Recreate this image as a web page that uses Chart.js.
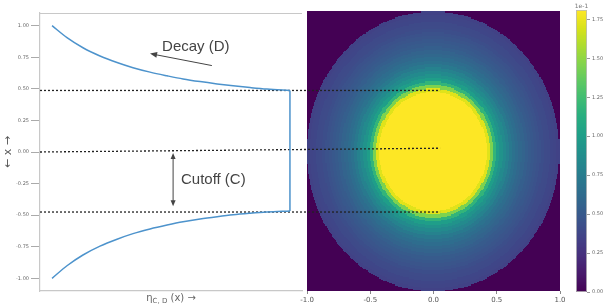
<!DOCTYPE html>
<html><head><meta charset="utf-8">
<script src="https://cdn.jsdelivr.net/npm/chart.js@4.4.1/dist/chart.umd.min.js"></script>
<style>
html,body{margin:0;padding:0;background:#fff;}
#wrap{position:relative;width:609px;height:306px;overflow:hidden;}
canvas{position:absolute;left:0;top:0;}
</style></head><body>
<div id="wrap">
<canvas id="heat" width="609" height="306"></canvas>
<canvas id="line" width="609" height="306"></canvas>
<canvas id="cbar" width="609" height="306"></canvas>
</div>
<script>
// ---------- data ----------
// left panel: eta_{C,D}(x) profile, x on the vertical axis
const etaValues = [0.046,0.103,0.164,0.229,0.294,0.355,0.420,0.485,0.546,0.611,0.676,0.737,0.802,0.866,0.954];
const upperX    = [1.000,0.905,0.825,0.760,0.708,0.667,0.632,0.603,0.578,0.557,0.539,0.524,0.510,0.498,0.487];
const lowerX    = [-1.000,-0.900,-0.815,-0.745,-0.690,-0.646,-0.609,-0.578,-0.552,-0.530,-0.512,-0.497,-0.485,-0.475,-0.466];
const leftYTicks = [-1.00,-0.75,-0.50,-0.25,0.00,0.25,0.50,0.75,1.00];
// dotted guide lines (x level at left end, x level at right end)
const guideStart = [0.487, 0.000, -0.475];
const guideEnd   = [0.487, 0.030, -0.475];
const guideEta   = [0, 1.527];
// right panel: radial profile of the heat map (units of 1e-1), bins of 0.025 in radius
const radialBinWidth = 0.025;
const radialProfile = [
  1.81,1.81,1.81,1.81,1.81,1.81,1.81,1.81,1.81,1.81,
  1.81,1.81,1.81,1.81,1.81,1.81,1.81,1.72,1.45,1.18,
  1.00,0.92,0.85,0.79,0.73,0.68,0.64,0.60,0.57,0.54,
  0.51,0.49,0.47,0.45,0.43,0.41,0.40,0.38,0.37,0.35
];
const heatXTicks = [-1.0,-0.5,0.0,0.5,1.0];
const cbarTicks = [0.00,0.25,0.50,0.75,1.00,1.25,1.50,1.75];
const cbarMax = 1.81;
const cbarExponent = '1e-1';

// ---------- helpers ----------
const VIRIDIS = ['#440154','#48186a','#472d7b','#424086','#3b528b','#33638d','#2c728e','#26828e',
  '#21918c','#1fa088','#28ae80','#3fbc73','#5ec962','#84d44b','#addc30','#d8e219','#fde725'];
function hex2rgb(h){return [parseInt(h.slice(1,3),16),parseInt(h.slice(3,5),16),parseInt(h.slice(5,7),16)];}
const VRGB = VIRIDIS.map(hex2rgb);
function viridis(t){
  t = Math.max(0, Math.min(1, t));
  const p = t*(VRGB.length-1), i = Math.min(Math.floor(p), VRGB.length-2), f = p-i;
  const a = VRGB[i], b = VRGB[i+1];
  return 'rgb(' + [0,1,2].map(k=>Math.round(a[k]+(b[k]-a[k])*f)).join(',') + ')';
}

// heat map cells built from the radial profile
const N = 240;
const heatCells = [];
for (let i=0;i<N;i++){
  for (let j=0;j<N;j++){
    const xc = -1 + (i+0.5)*2/N, yc = -1 + (j+0.5)*2/N;
    const bin = Math.floor(Math.hypot(xc,yc)/radialBinWidth);
    heatCells.push({x:xc, y:yc, v: bin < radialProfile.length ? radialProfile[bin] : 0});
  }
}

Chart.defaults.font.family = "'DejaVu Sans', 'Liberation Sans', sans-serif";
Chart.defaults.animation = false;

// ---------- heat map ----------
const heatPlugin = {
  id:'heatPlugin',
  beforeDatasetsDraw(chart){
    const {ctx, scales:{x, y}} = chart;
    const h = 1/N;
    const cache = {};
    ctx.save();
    for (const c of heatCells){
      const x0 = Math.floor(x.getPixelForValue(c.x-h)), x1 = Math.ceil(x.getPixelForValue(c.x+h));
      const y0 = Math.floor(y.getPixelForValue(c.y+h)), y1 = Math.ceil(y.getPixelForValue(c.y-h));
      ctx.fillStyle = cache[c.v] || (cache[c.v] = viridis(c.v/cbarMax));
      ctx.fillRect(x0, y0, x1-x0, y1-y0);
    }
    ctx.restore();
  }
};
new Chart(document.getElementById('heat'), {
  type:'scatter',
  data:{datasets:[{data:heatCells, pointRadius:0, showLine:false}]},
  options:{
    responsive:false, devicePixelRatio:1,
    layout:{padding:{left:307,right:49,top:11,bottom:0}},
    plugins:{legend:{display:false}, tooltip:{enabled:false}},
    scales:{
      x:{type:'linear', min:-1, max:1,
         afterBuildTicks(s){s.ticks = heatXTicks.map(v=>({value:v}));},
         afterFit(s){s.height = 15;},
         ticks:{callback:v=>v.toFixed(1), font:{size:7}, color:'#555', padding:2, maxRotation:0},
         grid:{display:true, drawOnChartArea:false, drawTicks:true, tickLength:3, color:'#888'},
         border:{display:false}},
      y:{type:'linear', min:-1, max:1, display:false}
    }
  },
  plugins:[heatPlugin]
});

// ---------- left line panel ----------
const upperBranch = etaValues.map((e,i)=>({x:e, y:upperX[i]}));
const lowerBranch = etaValues.map((e,i)=>({x:e, y:lowerX[i]}));
const last = etaValues.length-1;
const cutoffSegment = [{x:etaValues[last], y:upperX[last]},{x:etaValues[last], y:lowerX[last]}];
const curveStyle = {showLine:true, borderColor:'#4d93cc', borderWidth:1.5, pointRadius:0};
const guides = guideStart.map((s,i)=>({
  data:[{x:guideEta[0], y:s},{x:guideEta[1], y:guideEnd[i]}],
  showLine:true, borderColor:'#222', borderWidth:1.3, borderDash:[2,2],
  pointRadius:0, clip:false
}));

function arrowHead(ctx, x1, y1, x2, y2, len, wid){
  const a = Math.atan2(y2-y1, x2-x1);
  ctx.beginPath();
  ctx.moveTo(x2, y2);
  ctx.lineTo(x2 - len*Math.cos(a) + wid*Math.sin(a), y2 - len*Math.sin(a) - wid*Math.cos(a));
  ctx.lineTo(x2 - len*Math.cos(a) - wid*Math.sin(a), y2 - len*Math.sin(a) + wid*Math.cos(a));
  ctx.closePath(); ctx.fill();
}

const leftDeco = {
  id:'leftDeco',
  afterDraw(chart){
    const {ctx, chartArea:ca, scales:{x, y}} = chart;
    ctx.save();
    // top spine
    ctx.strokeStyle = '#c8c8c8'; ctx.lineWidth = 1.2;
    ctx.beginPath(); ctx.moveTo(ca.left, ca.top+0.5); ctx.lineTo(ca.right, ca.top+0.5); ctx.stroke();
    // y title
    ctx.fillStyle = '#555'; ctx.font = "11px 'DejaVu Sans'";
    ctx.textAlign = 'center'; ctx.textBaseline = 'middle';
    ctx.translate(8, (ca.top+ca.bottom)/2); ctx.rotate(-Math.PI/2);
    ctx.fillText('\u2190 x \u2192', 0, 0);
    ctx.setTransform(1,0,0,1,0,0);
    // x title with subscript
    ctx.fillStyle = '#666'; ctx.textAlign = 'left'; ctx.textBaseline = 'alphabetic';
    const big = "10px 'DejaVu Sans'", small = "7px 'DejaVu Sans'";
    const p1 = '\u03b7', p2 = 'C, D', p3 = ' (x) \u2192';
    ctx.font = big; const w1 = ctx.measureText(p1).width, w3 = ctx.measureText(p3).width;
    ctx.font = small; const w2 = ctx.measureText(p2).width;
    let tx = 171 - (w1+w2+w3)/2; const ty = 301;
    ctx.font = big; ctx.fillText(p1, tx, ty); tx += w1;
    ctx.font = small; ctx.fillText(p2, tx, ty+2); tx += w2;
    ctx.font = big; ctx.fillText(p3, tx, ty);
    // Decay annotation
    ctx.fillStyle = '#444'; ctx.strokeStyle = '#444'; ctx.lineWidth = 1;
    ctx.font = "15px 'Liberation Sans'"; ctx.textBaseline = 'middle';
    ctx.fillText('Decay (D)', x.getPixelForValue(0.466), y.getPixelForValue(0.834));
    let ax1 = x.getPixelForValue(0.656), ay1 = y.getPixelForValue(0.684);
    let ax2 = x.getPixelForValue(0.420), ay2 = y.getPixelForValue(0.779);
    ctx.beginPath(); ctx.moveTo(ax1, ay1); ctx.lineTo(ax2+5, ay2+1); ctx.stroke();
    arrowHead(ctx, ax1, ay1, ax2, ay2, 7, 3);
    // Cutoff annotation
    ctx.fillText('Cutoff (C)', x.getPixelForValue(0.538), y.getPixelForValue(-0.221));
    const cx = x.getPixelForValue(0.508);
    const cy1 = y.getPixelForValue(-0.008), cy2 = y.getPixelForValue(-0.430);
    ctx.beginPath(); ctx.moveTo(cx, cy1+4); ctx.lineTo(cx, cy2-4); ctx.stroke();
    arrowHead(ctx, cx, cy2, cx, cy1, 6, 2.5);
    arrowHead(ctx, cx, cy1, cx, cy2, 6, 2.5);
    ctx.restore();
  }
};

new Chart(document.getElementById('line'), {
  type:'scatter',
  data:{datasets:[
    {data:upperBranch, ...curveStyle, cubicInterpolationMode:'monotone'},
    {data:lowerBranch, ...curveStyle, cubicInterpolationMode:'monotone'},
    {data:cutoffSegment, ...curveStyle},
    ...guides
  ]},
  options:{
    responsive:false, devicePixelRatio:1,
    layout:{padding:{left:0,right:307,top:13,bottom:0}},
    plugins:{legend:{display:false}, tooltip:{enabled:false}},
    scales:{
      x:{type:'linear', min:0, max:1,
         afterFit(s){s.height = 15;},
         ticks:{display:false},
         grid:{display:false},
         border:{display:true, color:'#c8c8c8', width:1.2}},
      y:{type:'linear', min:-1.1, max:1.1,
         afterBuildTicks(s){s.ticks = leftYTicks.map(v=>({value:v}));},
         afterFit(s){s.width = 40;},
         ticks:{callback:v=>v.toFixed(2), font:{size:5}, color:'#666', padding:2},
         grid:{display:true, drawOnChartArea:false, drawTicks:true, tickLength:9, color:'#aaa'},
         border:{display:true, color:'#c8c8c8', width:1.2}}
    }
  },
  plugins:[leftDeco]
});

// ---------- colour bar ----------
const cbarPlugin = {
  id:'cbarPlugin',
  beforeDatasetsDraw(chart){
    const {ctx, chartArea:ca, scales:{y}} = chart;
    ctx.save();
    const step = 0.005;
    for (let v=0; v<cbarMax; v+=step){
      const y0 = Math.floor(y.getPixelForValue(Math.min(v+step, cbarMax)));
      const y1 = Math.ceil(y.getPixelForValue(v));
      ctx.fillStyle = viridis((v+step/2)/cbarMax);
      ctx.fillRect(ca.left, y0, ca.right-ca.left, y1-y0);
    }
    ctx.strokeStyle = '#bbb'; ctx.lineWidth = 0.8;
    ctx.strokeRect(ca.left+0.5, ca.top+0.5, ca.right-ca.left-1, ca.bottom-ca.top-1);
    ctx.fillStyle = '#777'; ctx.font = "6px 'DejaVu Sans'"; ctx.textAlign = 'center'; ctx.textBaseline = 'bottom';
    ctx.fillText(cbarExponent, (ca.left+ca.right)/2, ca.top-1);
    ctx.restore();
  }
};
new Chart(document.getElementById('cbar'), {
  type:'scatter',
  data:{datasets:[{data:[], pointRadius:0}]},
  options:{
    responsive:false, devicePixelRatio:1,
    layout:{padding:{left:576,right:0,top:10,bottom:14}},
    plugins:{legend:{display:false}, tooltip:{enabled:false}},
    scales:{
      x:{type:'linear', min:0, max:1, display:false},
      y:{type:'linear', position:'right', min:0, max:cbarMax,
         afterBuildTicks(s){s.ticks = cbarTicks.map(v=>({value:v}));},
         afterFit(s){s.width = 22;},
         ticks:{callback:v=>v.toFixed(2), font:{size:5}, color:'#666', padding:2},
         grid:{display:true, drawOnChartArea:false, drawTicks:true, tickLength:3, color:'#999'},
         border:{display:false}}
    }
  },
  plugins:[cbarPlugin]
});
</script>
</body></html>
